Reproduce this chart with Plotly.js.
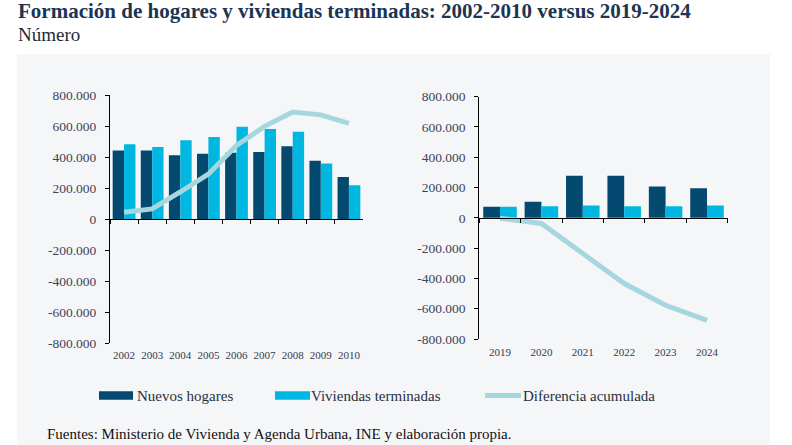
<!DOCTYPE html>
<html>
<head>
<meta charset="utf-8">
<script src="https://cdn.plot.ly/plotly-3.0.1.min.js"></script>
<style>
  html, body { margin: 0; padding: 0; background: #ffffff; }
  #chart { width: 792px; height: 445px; }
</style>
</head>
<body>
<div id="chart"></div>
<script>
// Period 2002-2010
const yearsA = ['2002', '2003', '2004', '2005', '2006', '2007', '2008', '2009', '2010'];
const hogaresA = [443000, 443000, 411000, 421000, 428000, 432000, 469000, 376000, 271000];
const viviendasA = [482000, 465000, 508000, 529000, 596000, 581000, 563000, 359000, 219000];
const diferenciaA = [45000, 66000, 175000, 290000, 475000, 598000, 690000, 672000, 617000];

// Period 2019-2024
const yearsB = ['2019', '2020', '2021', '2022', '2023', '2024'];
const hogaresB = [73000, 106000, 278000, 278000, 207000, 196000];
const viviendasB = [73000, 77000, 82000, 77000, 77000, 82000];
const diferenciaB = [-3000, -37000, -236000, -434000, -577000, -677000];

const yTicks = [-800000, -600000, -400000, -200000, 0, 200000, 400000, 600000, 800000];
const seriesNames = ['Nuevos hogares', 'Viviendas terminadas', 'Diferencia acumulada'];

const titleText = 'Formación de hogares y viviendas terminadas: 2002-2010 versus 2019-2024';
const subtitleText = 'Número';
const sourceText = 'Fuentes: Ministerio de Vivienda y Agenda Urbana, INE y elaboración propia.';

const C_DARK = '#044a70';
const C_LIGHT = '#00b7e1';
const C_LINE = '#a7d7de';
const SERIF = 'Liberation Serif, DejaVu Serif, serif';

// Pixel -> paper helpers (792 x 445 canvas, no margins)
const W = 792, H = 445;
const px = x => x / W;
const py = y => 1 - y / H;

// Spanish number format with dot thousands and a plain hyphen for negatives
function fmt(v) {
  const s = Math.abs(v).toString().replace(/\B(?=(\d{3})+(?!\d))/g, '.');
  return (v < 0 ? '-' : '') + s;
}
const yTickText = yTicks.map(fmt);

function catAxis(x0, x1, zeroY, n, standoff) {
  return {
    domain: [px(x0), px(x1)],
    anchor: 'free',
    position: py(zeroY),
    type: 'category',
    range: [-0.5, n - 0.5],
    showline: true, linecolor: '#000', linewidth: 1,
    ticks: 'outside', ticklen: 4, tickwidth: 1, tickcolor: '#000',
    tickson: 'boundaries',
    tickangle: 0,
    showgrid: false, zeroline: false,
    ticklabelstandoff: standoff,
    tickfont: { family: SERIF, size: 11, color: '#343b4d' },
    fixedrange: true
  };
}

function valAxis(xAnchor, yTop, yBottom) {
  return {
    domain: [py(yBottom), py(yTop)],
    anchor: xAnchor,
    range: [-800000, 800000],
    tickmode: 'array', tickvals: yTicks, ticktext: yTickText,
    showline: true, linecolor: '#000', linewidth: 1,
    ticks: 'outside', ticklen: 4, tickwidth: 1, tickcolor: '#000',
    showgrid: false, zeroline: false,
    ticklabelstandoff: 6,
    tickfont: { family: SERIF, size: 13.5, color: '#3e4358' },
    fixedrange: true
  };
}

function barTrace(x, y, color, name, xa, ya) {
  return { type: 'bar', x, y, name, xaxis: xa, yaxis: ya,
           marker: { color, line: { width: 0 } }, showlegend: false, hoverinfo: 'skip' };
}
function lineTrace(x, y, name, xa, ya) {
  return { type: 'scatter', mode: 'lines', x, y, name, xaxis: xa, yaxis: ya,
           line: { color: C_LINE, width: 5 }, showlegend: false, hoverinfo: 'skip' };
}

const data = [
  barTrace(yearsA, hogaresA, C_DARK, seriesNames[0], 'x', 'y'),
  barTrace(yearsA, viviendasA, C_LIGHT, seriesNames[1], 'x', 'y'),
  lineTrace(yearsA, diferenciaA, seriesNames[2], 'x', 'y'),
  barTrace(yearsB, hogaresB, C_DARK, seriesNames[0], 'x2', 'y2'),
  barTrace(yearsB, viviendasB, C_LIGHT, seriesNames[1], 'x2', 'y2'),
  lineTrace(yearsB, diferenciaB, seriesNames[2], 'x2', 'y2')
];

// Legend swatches and labels
const legendY = 395.5;
const legendItems = [
  { kind: 'rect', color: C_DARK, x0: 99, x1: 133, tx: 135 },
  { kind: 'rect', color: C_LIGHT, x0: 275, x1: 310, tx: 309 },
  { kind: 'line', color: C_LINE, x0: 485, x1: 521, tx: 521 }
];

const shapes = [
  // light panel behind the charts
  { type: 'rect', xref: 'paper', yref: 'paper', layer: 'below',
    x0: px(17), x1: px(770), y0: 0, y1: py(54),
    fillcolor: '#f5f6f8', line: { width: 0 } }
];
const annotations = [
  { text: '<b>' + titleText + '</b>', xref: 'paper', yref: 'paper', x: px(16), y: py(11),
    xanchor: 'left', yanchor: 'middle', showarrow: false,
    font: { family: SERIF, size: 21, color: '#1b3553' } },
  { text: subtitleText, xref: 'paper', yref: 'paper', x: px(16), y: py(35),
    xanchor: 'left', yanchor: 'middle', showarrow: false,
    font: { family: SERIF, size: 19, color: '#1e2a3a' } },
  { text: sourceText, xref: 'paper', yref: 'paper', x: px(45), y: py(434),
    xanchor: 'left', yanchor: 'middle', showarrow: false,
    font: { family: SERIF, size: 15, color: '#111111' } }
];

legendItems.forEach((it, i) => {
  if (it.kind === 'rect') {
    shapes.push({ type: 'rect', xref: 'paper', yref: 'paper',
      x0: px(it.x0), x1: px(it.x1), y0: py(legendY + 4.2), y1: py(legendY - 4.2),
      fillcolor: it.color, line: { width: 0 } });
  } else {
    shapes.push({ type: 'line', xref: 'paper', yref: 'paper',
      x0: px(it.x0), x1: px(it.x1), y0: py(legendY), y1: py(legendY),
      line: { color: it.color, width: 5 } });
  }
  annotations.push({ text: seriesNames[i], xref: 'paper', yref: 'paper',
    x: px(it.tx), y: py(legendY), xanchor: 'left', yanchor: 'middle', showarrow: false,
    font: { family: SERIF, size: 15, color: '#2a2f3d' } });
});

const layout = {
  width: W, height: H,
  margin: { l: 0, r: 0, t: 0, b: 0 },
  paper_bgcolor: '#ffffff',
  plot_bgcolor: 'rgba(0,0,0,0)',
  barmode: 'group',
  bargap: 0.19,
  bargroupgap: 0,
  showlegend: false,
  xaxis: catAxis(110, 363, 219.2, yearsA.length, 126),
  yaxis: valAxis('x', 95, 343.3),
  xaxis2: catAxis(479.3, 727.7, 217.8, yearsB.length, 124),
  yaxis2: valAxis('x2', 96.7, 339),
  shapes,
  annotations
};

Plotly.newPlot('chart', data, layout, { displayModeBar: false, staticPlot: true });
</script>
</body>
</html>
